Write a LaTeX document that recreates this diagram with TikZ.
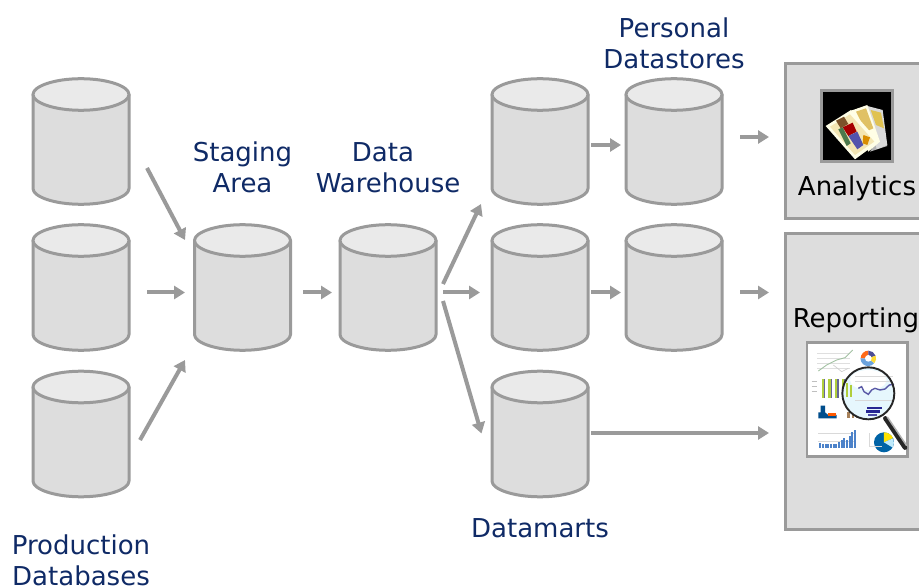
\documentclass[tikz,border=0pt]{standalone}
\usepackage{fontspec}
\setmainfont{DejaVu Sans}
\usetikzlibrary{arrows.meta}
\definecolor{edgegrey}{HTML}{9A9A9A}
\definecolor{bodygrey}{HTML}{DDDDDD}
\definecolor{topgrey}{HTML}{EAEAEA}
\definecolor{navy}{HTML}{0F2A66}
\newcommand{\conn}[6]{\draw[flow] ([shift={(#2,#3)}]#1.center) -- ([shift={(#5,#6)}]#4.center);}
\newcommand{\dbc}[3]{%
  \node[dbnode] (#1) at (#2,#3) {};
  \begin{scope}[shift={(#2,#3)}]
    \path[dbline,fill=bodygrey] (-48,-47) -- (-48,47)
      .. controls (-48,55.5) and (-26,62.8) .. (0,62.8)
      .. controls (26,62.8) and (48,55.5) .. (48,47)
      -- (48,-47) -- cycle;
    \path[dbline,fill=topgrey] (-48,-47)
      .. controls (-48,-55.5) and (-26,-62.8) .. (0,-62.8)
      .. controls (26,-62.8) and (48,-55.5) .. (48,-47)
      .. controls (48,-38.5) and (26,-31.2) .. (0,-31.2)
      .. controls (-26,-31.2) and (-48,-38.5) .. (-48,-47) -- cycle;
  \end{scope}}
\tikzset{
  x=1pt,y=-1pt,
  dbnode/.style={rectangle,minimum width=98pt,minimum height=127pt,inner sep=0pt,outer sep=0pt},
  dbline/.style={draw=edgegrey,line width=3pt,line join=round},
  flow/.style={draw=edgegrey,line width=4pt,-{Triangle[length=11pt,width=13pt]}},
  toolbox/.style={draw=edgegrey,fill=bodygrey,line width=3pt,minimum width=145pt,inner sep=0pt},
  lbl/.style={text=navy,font=\fontsize{26}{30.5}\selectfont,align=center,inner sep=0pt},
  blk/.style={text=black,font=\fontsize{26}{30.5}\selectfont,inner sep=0pt},
}
\begin{document}
\begin{tikzpicture}
\clip (0,0) rectangle (919,588);
\fill[white] (0,0) rectangle (919,588);
% cylinders
\dbc{p1}{81}{141.5}
\dbc{p2}{81}{287.5}
\dbc{p3}{81}{434}
\dbc{st}{242.5}{287.5}
\dbc{wh}{388}{287.5}
\dbc{m1}{540}{141.5}
\dbc{m2}{540}{287.5}
\dbc{m3}{540}{434}
\dbc{d1}{674}{141.5}
\dbc{d2}{674}{287.5}
% tool boxes
\node[toolbox,minimum height=155pt] (an) at (857.5,141.5) {};
\node[toolbox,minimum height=295pt] (re) at (857.5,381.5) {};
% connectors
\conn{p1}{66}{26.5}{st}{-57.5}{-47.5}
\conn{p2}{66}{5}{st}{-57.5}{5}
\conn{p3}{59}{6}{st}{-57.5}{72.5}
\conn{st}{60.5}{5}{wh}{-56}{5}
\conn{wh}{55}{-3.5}{m1}{-59}{62.5}
\conn{wh}{55}{5}{m2}{-60}{5}
\conn{wh}{55}{13.5}{m3}{-58.5}{-0.5}
\conn{m1}{51}{3.5}{d1}{-53}{3.5}
\conn{m2}{51}{5}{d2}{-53}{5}
\conn{d1}{66}{-4.5}{an}{-88.5}{-4.5}
\conn{d2}{66}{5}{re}{-88.5}{-89}
\conn{m3}{51}{-1}{re}{-88.5}{51.5}
% labels
\node[lbl] (lprod) at (81,560.5) {Production\\Databases};
\node[lbl] (lstag) at (242.5,167.5) {Staging\\Area};
\node[lbl] (lware) at (388,167.5) {Data\rule{10pt}{0pt}\\Warehouse};
\node[lbl] (lpers) at (674,43.5) {Personal\\Datastores};
\node[lbl] (lmart) at (540,528.5) {Datamarts};
\node[blk] (lana) at (857,188.5) {Analytics};
\node[blk] (lrep) at (856,320) {Reporting};
% tarot picture (crop coordinates: 3 units = 1 px)
\begin{scope}[shift={(780pt,-50pt)},x=0.3333pt,y=-0.3333pt]
  \fill[black] (125,122) rectangle (337,335);
  \draw[edgegrey,line width=2.5pt] (125,122) rectangle (337,335);
  \fill[gray!60] (270,305) -- (322,288) -- (300,255) -- cycle;
  \fill[white!85!black] (262,168) -- (308,180) -- (322,285) -- (290,298) -- cycle;
  \fill[brown!60!yellow!80!white] (272,180) -- (303,188) -- (312,235) -- (288,225) -- cycle;
  \fill[white!90!yellow] (213,182) -- (262,165) -- (300,275) -- (265,305) -- cycle;
  \fill[yellow!35!brown!80!white] (228,185) -- (258,175) -- (280,235) -- (258,245) -- cycle;
  \fill[yellow!10!white] (137,228) -- (213,180) -- (297,275) -- (225,328) -- cycle;
  \fill[yellow!45!brown!35!white] (150,230) -- (210,193) -- (283,275) -- (225,315) -- cycle;
  \fill[brown!65!black] (168,212) -- (192,200) -- (205,222) -- (182,235) -- cycle;
  \fill[red!65!black] (188,232) -- (218,218) -- (230,245) -- (205,258) -- cycle;
  \fill[blue!35!gray] (205,258) -- (232,245) -- (250,285) -- (232,298) -- cycle;
  \fill[green!25!black!70] (175,238) -- (188,232) -- (212,280) -- (200,288) -- cycle;
  \fill[orange!70!yellow!85!black] (250,255) -- (270,262) -- (262,285) -- (248,280) -- cycle;
\end{scope}
% reporting picture (crop coordinates: 3 units = 1 px)
\begin{scope}[shift={(800pt,-335pt)},x=0.3333pt,y=-0.3333pt]
  \fill[white] (21,23) rectangle (323,365);
  \draw[edgegrey,line width=2.8pt] (21,23) rectangle (323,365);
  % line chart
  \foreach \yy in {55,70,85,100} \draw[gray!25,line width=.4pt] (52,\yy) -- (150,\yy);
  \draw[green!20!gray!60,line width=.9pt] (55,108) -- (80,90) -- (110,75) -- (135,68) -- (158,45);
  \draw[gray!40,line width=.6pt] (100,90) -- (125,110) -- (145,100);
  % donut
  \fill[orange!70!red!90] (205,70) -- (182,70) arc[start angle=180,end angle=270,radius=23] -- cycle;
  \fill[blue!40!black!70] (205,70) -- (205,47) arc[start angle=270,end angle=340,radius=23] -- cycle;
  \fill[yellow!70!orange!80] (205,70) -- (227,62) arc[start angle=340,end angle=400,radius=23] -- cycle;
  \fill[cyan!60!blue!60] (205,70) -- (222,85) arc[start angle=40,end angle=180,radius=23] -- cycle;
  \fill[white] (205,70) circle[radius=10];
  % bars
  \draw[gray!50,line width=.5pt] (35,140) -- (50,140) (35,155) -- (50,155) (35,170) -- (50,170);
  \foreach \xx in {65,85,105,125,150}{
    \fill[yellow!70!green!80!gray] (\xx,133) rectangle +(7,55);
    \fill[blue!20!gray] (\xx+7,133) rectangle +(4,55);
  }
  % step chart
  \fill[blue!45!cyan!55!black] (55,250) -- (55,232) -- (62,232) -- (62,212) -- (75,212) -- (75,232) -- (85,240) -- (110,240) -- (110,250) -- cycle;
  \fill[orange!70!red] (85,235) rectangle (108,242);
  \foreach \xx in {142,155,168} \fill[brown!60!gray] (\xx,230) rectangle +(8,20);
  % bottom chart
  \draw[gray!30,line width=.4pt] (55,295) -- (165,295) (55,320) -- (165,320);
  \foreach \xx/\hh in {58/16,66/12,74/14,82/12,90/14,98/13,106/14,114/18,122/25,130/32,138/26,146/38,154/48,161/54}
    \fill[teal!60!blue!70] (\xx,340) rectangle +(6,-\hh);
  % pie
  \fill[blue!40!cyan!65!black] (252,322) circle[radius=30];
  \fill[yellow!85!orange] (252,322) -- (252,292) arc[start angle=270,end angle=335,radius=30] -- cycle;
  \fill[cyan!25!white] (252,322) -- (279,310) arc[start angle=335,end angle=390,radius=30] -- cycle;
  \draw[gray!30,line width=.4pt] (208,295) -- (208,335) -- (245,335);
  % magnifier
  \draw[line width=4.5pt,black!85,line cap=round] (256,250) -- (315,338);
  \draw[line width=1.5pt,gray!60] (262,246) -- (320,332);
  \fill[cyan!10!white] (205,175) circle[radius=78];
  \fill[white] (205,135) ellipse[x radius=55,y radius=30];
  \foreach \yy in {125,140,195} \draw[gray!30,line width=.4pt] (165,\yy) -- (278,\yy);
  \draw[gray!70!blue,line width=1.4pt] (175,160) -- (185,155) -- (192,170) -- (205,178) -- (215,165) -- (225,160) -- (240,165) -- (255,162) -- (268,150) -- (282,148);
  \fill[yellow!70!green!80!gray] (137,145) rectangle +(6,40);
  \fill[yellow!70!green!80!gray] (150,150) rectangle +(7,35);
  \fill[blue!50!black!85] (200,215) rectangle (245,222);
  \fill[blue!50!black!85] (197,226) rectangle (240,233);
  \fill[blue!50!black!70] (205,237) rectangle (230,243);
  \draw[line width=1.9pt,black!85] (205,175) circle[radius=78];
\end{scope}
\end{tikzpicture}
\end{document}
